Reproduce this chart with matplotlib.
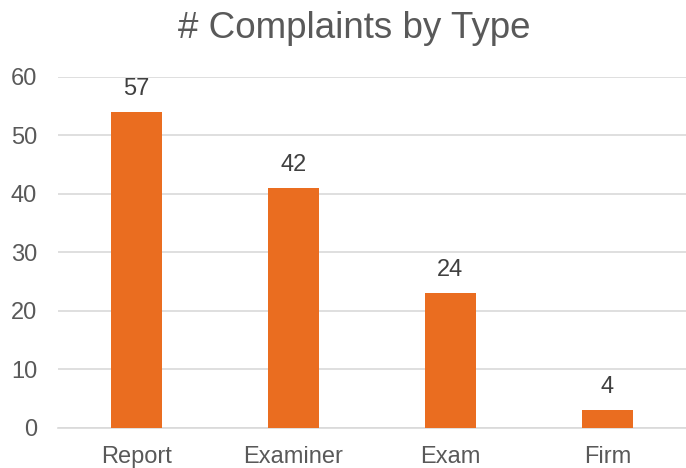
import matplotlib
matplotlib.use('Agg')
import matplotlib.pyplot as plt

plt.rcParams['font.family'] = ['Liberation Sans', 'DejaVu Sans']

# Complaint types, bar heights and the data labels shown above them
categories = ['Report', 'Examiner', 'Exam', 'Firm']
counts = [54, 41, 23, 3]
labels = ['57', '42', '24', '4']

bar_color = '#EA6D20'
text_color = '#595959'

fig = plt.figure(figsize=(6.86, 4.68), dpi=100)
ax = fig.add_axes([0.0845, 0.0855, 0.9155, 0.75])

x = range(len(categories))
bars = ax.bar(x, counts, width=0.32, color=bar_color, zorder=3)

for rect, lab in zip(bars, labels):
    ax.annotate(lab, (rect.get_x() + rect.get_width() / 2, rect.get_height()),
                xytext=(0, 9), textcoords='offset points',
                ha='center', va='bottom', fontsize=17, color='#404040')

ax.set_xlim(-0.5, 3.5)
ax.set_ylim(0, 60)
ax.set_yticks(range(0, 61, 10))
ax.set_xticks(list(x))
ax.set_xticklabels(categories)
ax.tick_params(axis='both', length=0, labelsize=17, labelcolor=text_color)
ax.tick_params(axis='x', pad=13)
ax.tick_params(axis='y', pad=15)
ax.grid(axis='y', color='#D9D9D9', linewidth=1.2, zorder=0)
for s in ['top', 'right', 'left']:
    ax.spines[s].set_visible(False)
ax.spines['bottom'].set_color('#D9D9D9')
ax.spines['bottom'].set_linewidth(1.2)

fig.suptitle('# Complaints by Type', x=0.517, y=0.976, va='top',
             fontsize=26.5, color=text_color)

fig.savefig('out.png', dpi=100)
